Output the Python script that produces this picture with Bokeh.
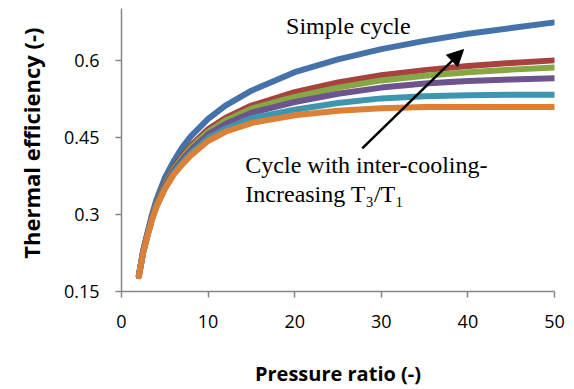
from bokeh.plotting import figure
from bokeh.models import Range1d, FixedTicker, CustomJSTickFormatter, Label, Arrow, NormalHead, Title
from bokeh.embed import file_html
from bokeh.resources import INLINE

# Pressure ratio (x) and thermal efficiency of each cycle
pressure_ratio = [2, 2.5, 3, 3.5, 4, 5, 6, 7, 8, 10, 12, 15, 20, 25, 30, 35, 40, 45, 50]
simple_cycle = [0.180, 0.230, 0.265, 0.298, 0.327, 0.371, 0.403, 0.430, 0.452, 0.486, 0.512, 0.541, 0.577, 0.602, 0.622, 0.638, 0.652, 0.663, 0.674]
ic_red = [0.180, 0.228, 0.262, 0.293, 0.320, 0.360, 0.390, 0.414, 0.434, 0.466, 0.488, 0.512, 0.538, 0.557, 0.571, 0.581, 0.589, 0.595, 0.600]
ic_green = [0.180, 0.227, 0.261, 0.292, 0.318, 0.357, 0.387, 0.410, 0.430, 0.461, 0.483, 0.506, 0.529, 0.547, 0.561, 0.570, 0.577, 0.582, 0.586]
ic_purple = [0.180, 0.227, 0.260, 0.291, 0.316, 0.355, 0.384, 0.406, 0.425, 0.456, 0.476, 0.498, 0.519, 0.535, 0.547, 0.555, 0.560, 0.563, 0.565]
ic_teal = [0.180, 0.226, 0.259, 0.289, 0.315, 0.352, 0.380, 0.401, 0.419, 0.449, 0.467, 0.487, 0.504, 0.517, 0.526, 0.530, 0.532, 0.533, 0.533]
ic_orange = [0.180, 0.225, 0.258, 0.288, 0.313, 0.349, 0.377, 0.397, 0.415, 0.443, 0.461, 0.478, 0.493, 0.502, 0.507, 0.509, 0.509, 0.509, 0.509]

x_ticks = [0, 10, 20, 30, 40, 50]
y_ticks = [0.15, 0.3, 0.45, 0.6]

series = [
    (simple_cycle, "#4672AA"),
    (ic_red, "#A8423F"),
    (ic_green, "#86A844"),
    (ic_purple, "#6E548D"),
    (ic_teal, "#3D96AE"),
    (ic_orange, "#DA8137"),
]

p = figure(width=574, height=389, output_backend="svg", toolbar_location=None,
           x_range=Range1d(0, 50), y_range=Range1d(0.15, 0.701),
           min_border_left=121, min_border_right=20, min_border_top=8, min_border_bottom=97)
p.outline_line_color = None
p.grid.visible = False
p.background_fill_color = "white"
p.border_fill_color = "white"

for ys, c in series:
    p.line(pressure_ratio, ys, line_color=c, line_width=6, line_cap="round", line_join="round")

axis_color = "#868686"
for ax in (p.xaxis[0], p.yaxis[0]):
    ax.axis_line_color = axis_color
    ax.axis_line_width = 1.5
    ax.major_tick_line_color = axis_color
    ax.major_tick_line_width = 1.5
    ax.major_tick_out = 6
    ax.major_tick_in = 0
    ax.minor_tick_line_color = None
    ax.major_label_text_font = "Open Sans"
    ax.major_label_text_font_size = "18px"
    ax.major_label_text_color = "#000000"

p.xaxis.ticker = FixedTicker(ticks=x_ticks)
p.yaxis.ticker = FixedTicker(ticks=y_ticks)
p.yaxis.formatter = CustomJSTickFormatter(code="return tick.toString();")
p.xaxis.major_label_standoff = 17
p.yaxis.major_label_standoff = 16

p.xaxis.axis_label = "Pressure ratio (-)"
p.xaxis.axis_label_text_font = "Open Sans"
p.xaxis.axis_label_text_font_style = "bold"
p.xaxis.axis_label_text_font_size = "20px"
p.xaxis.axis_label_text_color = "#000000"
p.xaxis.axis_label_standoff = 29

# y axis title, as a side title so it can sit a little above centre
p.add_layout(Title(text="Thermal efficiency (-)", align="right", offset=19,
                   vertical_align="middle", standoff=28,
                   text_font="Open Sans", text_font_style="bold", text_font_size="22px",
                   text_color="#000000"), "left")

p.add_layout(Label(x=19.0, y=0.667, text="Simple cycle", text_font="Liberation Serif",
                   text_font_size="24px", text_color="#000000", text_baseline="alphabetic"))
p.add_layout(Label(x=14.3, y=0.396, text="Cycle with inter-cooling-", text_font="Liberation Serif",
                   text_font_size="24px", text_color="#000000", text_baseline="alphabetic"))
p.add_layout(Label(x=14.3, y=0.340, text="Increasing T\u2083/T\u2081", text_font="Liberation Serif",
                   text_font_size="24px", text_color="#000000", text_baseline="alphabetic"))

p.add_layout(Arrow(x_start=27.8, y_start=0.4286, x_end=39.5, y_end=0.621, line_width=2.5,
                   line_color="#000000",
                   end=NormalHead(size=16, fill_color="#000000", line_color="#000000")))

open("out.html", "w").write(file_html(p, INLINE))
